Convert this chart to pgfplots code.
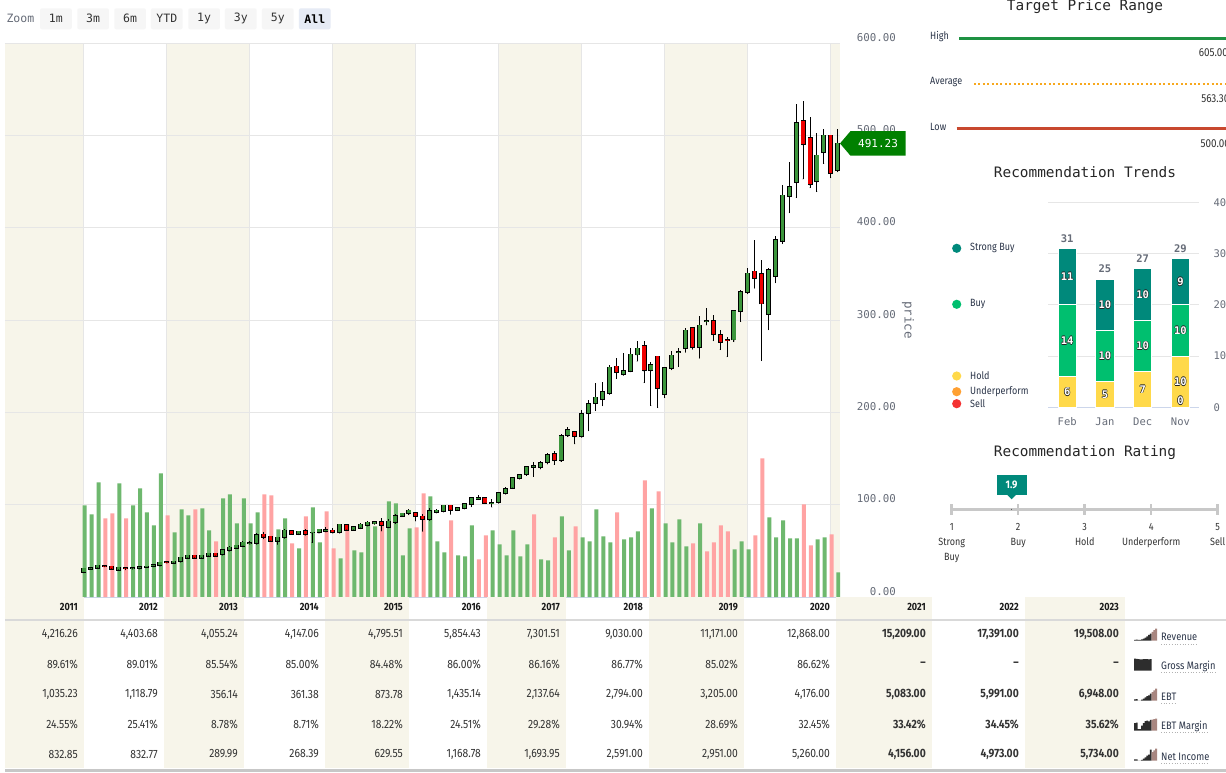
\documentclass[border=0pt]{standalone}
\usepackage{fontspec}
\usepackage{pgfplots}
\usepackage{pgfplotstable}
\pgfplotsset{compat=1.18}
\setmainfont{Fira Sans}
\setmonofont{DejaVu Sans Mono}
\newfontfamily\cond[FakeStretch=0.86]{Fira Sans}
\newcommand\fs[2]{\fontsize{#1}{#2}\selectfont}

\definecolor{beige}{RGB}{247,245,234}
\definecolor{gridc}{RGB}{230,230,230}
\definecolor{axisc}{RGB}{204,214,235}
\definecolor{labc}{RGB}{102,108,120}
\definecolor{upc}{RGB}{60,150,60}
\definecolor{dnc}{RGB}{240,0,0}
\definecolor{volup}{RGB}{110,184,110}
\definecolor{voldn}{RGB}{255,163,163}
\definecolor{tagc}{RGB}{0,128,0}
\definecolor{btn}{RGB}{246,246,246}
\definecolor{btnsel}{RGB}{230,235,245}
\definecolor{txt}{RGB}{51,51,51}
\definecolor{navy}{RGB}{42,52,72}
\definecolor{hig}{RGB}{30,146,66}
\definecolor{avg}{RGB}{247,168,30}
\definecolor{low}{RGB}{200,72,46}
\definecolor{sbuy}{RGB}{0,137,123}
\definecolor{buy}{RGB}{0,191,111}
\definecolor{hold}{RGB}{255,217,74}
\definecolor{under}{RGB}{255,160,50}
\definecolor{sell}{RGB}{244,50,50}
\definecolor{scalec}{RGB}{200,200,200}
\definecolor{mauve}{RGB}{168,134,128}
\definecolor{dark}{RGB}{45,45,45}
\definecolor{rowline}{RGB}{217,217,217}

% monthly candles: index, open, high, low, close, volume, volume colour (1 = up)
\pgfplotstableread{
i o h l c v u
0 27.0 31.5 26.5 31.0 91.7 1
1 30.6 32.8 29.9 31.7 82.7 1
2 31.7 35.0 31.4 34.2 114.7 1
3 33.8 34.2 33.0 33.5 78.7 0
4 33.2 33.5 30.3 30.6 83.7 0
5 29.5 33.0 29.0 32.1 113.7 1
6 31.2 32.1 29.5 31.0 78.7 0
7 31.0 32.5 30.6 31.2 91.7 1
8 31.4 33.9 30.3 32.4 108.7 1
9 32.4 33.5 32.0 33.2 84.7 1
10 33.5 35.3 33.2 34.6 71.7 1
11 34.2 38.0 33.9 37.5 123.7 1
12 37.6 38.2 37.0 37.4 81.7 0
13 37.1 39.2 36.8 38.6 64.7 1
14 38.6 43.2 38.3 42.9 87.7 1
15 42.5 45.4 42.2 45.0 81.7 1
16 45.0 45.8 42.0 42.5 87.7 0
17 42.5 45.6 42.2 45.0 88.7 1
18 44.7 48.0 44.3 47.2 66.7 1
19 47.2 47.6 44.3 44.7 55.7 0
20 46.1 52.0 45.7 51.2 98.7 1
21 50.8 55.0 49.5 53.7 102.7 1
22 53.3 56.8 52.6 55.9 73.7 1
23 55.5 61.0 54.4 59.1 98.7 1
24 58.6 61.0 57.0 58.9 73.7 1
25 58.4 69.0 57.0 67.4 84.7 1
26 67.7 69.9 63.0 65.2 102.7 0
27 65.6 66.3 60.5 60.9 101.7 0
28 60.9 65.2 56.9 64.5 67.7 1
29 64.5 73.9 63.8 72.1 78.7 1
30 71.7 72.4 67.8 68.5 53.7 0
31 68.5 71.7 67.4 71.0 48.7 1
32 71.7 73.2 66.7 68.1 80.7 0
33 69.7 70.3 59.0 69.9 89.7 1
34 69.9 73.9 69.5 73.2 54.7 1
35 71.7 75.3 70.3 72.8 85.7 0
36 72.1 74.6 69.5 69.9 48.7 0
37 69.9 79.3 69.5 78.6 38.7 1
38 78.2 79.0 72.4 72.8 72.7 0
39 72.8 76.4 72.1 75.7 46.7 1
40 74.9 80.3 74.2 78.6 44.7 1
41 77.8 82.5 77.1 80.7 73.7 1
42 79.6 82.0 78.9 81.4 70.7 1
43 81.4 86.1 71.4 77.8 72.7 0
44 75.7 84.3 74.9 81.8 95.7 1
45 81.1 89.7 79.3 87.9 93.7 1
46 87.9 91.2 87.6 90.5 41.7 1
47 90.8 95.5 89.0 93.7 68.7 1
48 91.5 92.6 82.3 87.8 69.7 0
49 87.2 90.1 71.0 84.3 103.7 0
50 84.0 96.2 82.9 93.3 100.7 1
51 91.9 95.5 91.5 93.7 55.7 1
52 93.0 99.8 92.3 99.1 44.7 1
53 99.1 99.8 89.4 94.4 76.7 0
54 94.4 97.3 93.7 96.6 41.7 1
55 96.2 101.6 95.5 100.9 40.7 1
56 100.5 108.8 97.7 107.4 71.7 1
57 106.3 111.0 105.9 107.7 37.7 0
58 107.4 108.5 101.6 102.0 61.7 0
59 101.8 106.3 97.3 102.3 66.7 1
60 102.7 114.1 101.6 112.8 52.7 1
61 112.1 119.1 111.7 117.1 41.7 1
62 118.2 130.3 117.8 129.4 66.7 1
63 128.6 133.7 127.9 132.6 40.7 1
64 133.0 142.3 131.5 141.3 52.7 1
65 141.0 146.7 130.5 141.6 82.7 0
66 140.5 147.4 138.7 145.6 37.7 1
67 145.9 155.7 144.1 153.9 36.7 1
68 155.3 157.8 143.4 148.1 59.7 0
69 148.1 176.6 146.7 174.4 80.7 1
70 175.1 184.1 173.7 181.3 46.7 1
71 179.1 179.5 165.8 174.1 70.7 0
72 174.1 202.9 173.0 198.6 59.7 1
73 198.9 213.4 180.1 208.7 55.7 1
74 209.7 231.4 201.8 216.2 87.7 1
75 214.1 232.5 207.2 222.0 60.7 1
76 220.6 250.9 219.5 248.7 54.7 1
77 249.8 258.5 236.5 243.3 84.7 0
78 241.2 264.6 240.1 244.8 57.7 1
79 244.8 269.3 244.0 262.8 59.7 1
80 262.5 276.9 255.2 269.3 65.7 1
81 271.5 277.3 232.1 245.5 116.7 0
82 245.5 254.2 207.2 251.3 88.7 1
83 260.6 261.5 205.1 226.0 105.7 0
84 219.5 249.5 215.9 247.7 73.7 1
85 247.7 266.1 246.2 261.7 54.7 1
86 265.3 269.3 249.5 265.7 77.7 1
87 269.3 291.0 265.0 288.8 50.7 1
88 291.0 292.1 268.2 270.4 53.7 0
89 270.4 304.3 258.5 294.2 73.7 1
90 298.9 313.0 294.6 299.3 45.7 0
91 298.6 305.4 277.6 284.5 54.7 0
92 283.4 288.8 267.9 276.2 71.7 0
93 278.7 281.2 260.3 278.4 65.7 0
94 278.7 310.1 276.5 309.4 47.7 1
95 309.4 332.1 298.2 330.0 55.7 1
96 330.0 356.3 328.5 350.5 47.7 1
97 352.7 386.3 334.3 345.1 61.7 0
98 349.5 365.0 256.0 317.7 138.7 0
99 306.1 356.0 289.5 353.8 79.7 1
100 347.3 391.0 340.4 386.3 59.7 1
101 385.9 446.2 382.7 435.0 76.7 1
102 433.9 471.1 416.2 443.7 58.7 1
103 449.1 533.9 432.5 513.0 58.7 1
104 515.2 537.2 452.7 490.3 92.7 0
105 496.8 519.9 443.3 446.9 51.7 0
106 450.2 502.5 439.0 478.3 57.7 1
107 481.6 506.9 469.3 500.0 59.7 1
108 500.0 500.0 454.2 458.8 62.7 0
109 462.1 506.9 460.6 491.23 24.7 1
}\ohlc

% white digits with a dark rim
\newcommand\olabel[1]{%
  \sbox0{#1}%
  \makebox[\wd0][l]{%
    \rlap{\raisebox{0.55pt}{\textcolor{black!85}{#1}}}%
    \rlap{\raisebox{-0.55pt}{\textcolor{black!85}{#1}}}%
    \rlap{\hspace*{0.55pt}\textcolor{black!85}{#1}}%
    \rlap{\hspace*{-0.55pt}\textcolor{black!85}{#1}}%
    \textcolor{white}{#1}}}

% one row of the financial table, right-aligned per column
\newcommand\trow[2]{%
  \foreach \v [count=\k from 0] in {#2}{%
    \pgfmathsetmacro\xr{{78,158,238,319,403,481,560,643,738,830,926,1019,1119}[\k]}%
    \node[anchor=east, inner sep=0pt, text=txt, font=\cond\fs{12}{13}\ifnum\k>9 \bfseries\fi] at (\xr,#1) {\v};}}

% invisible point markers for plots that only carry error bars
\pgfplotsset{bars only/.style={only marks, mark=*, mark size=0.1pt, mark options={draw=none, fill=none}}}

\begin{document}
\begin{tikzpicture}
\begin{scope}[x=1pt,y=1pt]
\fill[white] (0,0) rectangle (1226,772);
% ---- range selector ----
\node[anchor=west, inner sep=0pt, text=labc, font=\ttfamily\fs{11.5}{13}] at (6.3,753.2) {Zoom};
\foreach \cx/\t in {55.9/1m,93.1/3m,130.1/6m,166.8/YTD,204.1/1y,240.8/3y,277.8/5y}
  \node[fill=btn, rounded corners=2pt, minimum width=31.7pt, minimum height=21pt, inner sep=0pt, text=txt, font=\ttfamily\fs{11.5}{13}] at (\cx,753.2) {\t};
\node[fill=btnsel, rounded corners=2pt, minimum width=31.7pt, minimum height=21pt, inner sep=0pt, text=black, font=\ttfamily\bfseries\fs{11.5}{13}] at (314.8,753.2) {All};
\end{scope}

% ---- price axis: year bands, grid, labels ----
\begin{axis}[at={(5pt,175pt)}, anchor=south west, scale only axis,
  width=835pt, height=554pt,
  xmin=-11.41, xmax=109.34, ymin=0, ymax=600, enlargelimits=false,
  axis x line*=bottom, axis y line*=right,
  x axis line style={draw=axisc, line width=1pt},
  y axis line style={draw=none},
  major tick length=0pt, xtick=\empty,
  ytick={0,100,...,600},
  /pgf/number format/assume math mode=true,
  yticklabel={\pgfmathprintnumber[fixed,fixed zerofill,precision=2]{\tick}},
  yticklabel style={anchor=base east, inner sep=0pt, xshift=56pt, yshift=2pt,
    text=labc, font=\ttfamily\fs{10.8}{12}}]
\fill[beige] (axis cs:-11.41,0) rectangle (axis cs:0,600);
\fill[beige] (axis cs:12,0) rectangle (axis cs:24,600);
\fill[beige] (axis cs:36,0) rectangle (axis cs:48,600);
\fill[beige] (axis cs:60,0) rectangle (axis cs:72,600);
\fill[beige] (axis cs:84,0) rectangle (axis cs:96,600);
\fill[beige] (axis cs:108,0) rectangle (axis cs:109.34,600);
\pgfplotsinvokeforeach{0,12,24,36,48,60,72,84,96,108}{
  \draw[gridc, line width=1pt] (axis cs:#1,0) -- (axis cs:#1,600);}
\pgfplotsinvokeforeach{100,200,300,400,500,600}{
  \draw[gridc, line width=1pt] (axis cs:-11.41,#1) -- (axis cs:109.34,#1);}
\end{axis}
\node[rotate=-90, text=labc, font=\ttfamily\fs{12.5}{14}] at (908pt,452pt) {price};

% ---- volume ----
\begin{axis}[at={(5pt,175pt)}, anchor=south west, scale only axis,
  width=835pt, height=554pt, hide axis,
  xmin=-11.41, xmax=109.34, ymin=0, ymax=554, enlargelimits=false]
\addplot[ybar, bar width=4pt, bar shift=0.8pt, draw=none, fill=volup,
  restrict expr to domain={\thisrow{u}}{0.5:1.5}] table[x=i, y=v]{\ohlc};
\addplot[ybar, bar width=4pt, bar shift=0.8pt, draw=none, fill=voldn,
  restrict expr to domain={\thisrow{u}}{-0.5:0.5}] table[x=i, y=v]{\ohlc};
\end{axis}

% ---- candles ----
\begin{axis}[at={(5pt,175pt)}, anchor=south west, scale only axis,
  width=835pt, height=554pt, hide axis, clip=false,
  xmin=-11.41, xmax=109.34, ymin=0, ymax=600, enlargelimits=false]
% wicks
\addplot[bars only, error bars/.cd, y dir=plus, y explicit,
  error mark=none, error bar style={line width=1pt, black}]
  table[x=i, y=l, y error plus expr={\thisrow{h}-\thisrow{l}}]{\ohlc};
% body outline
\addplot[bars only, error bars/.cd, y dir=plus, y explicit,
  error mark=none, error bar style={line width=5pt, black}]
  table[x=i, y expr={min(\thisrow{o},\thisrow{c})-0.9},
        y error plus expr={abs(\thisrow{c}-\thisrow{o})+1.8}]{\ohlc};
% rising bodies
\addplot[bars only, restrict expr to domain={\thisrow{c}-\thisrow{o}}{0:1000},
  error bars/.cd, y dir=plus, y explicit,
  error mark=none, error bar style={line width=3.2pt, upc}]
  table[x=i, y=o, y error plus expr={\thisrow{c}-\thisrow{o}}]{\ohlc};
% falling bodies
\addplot[bars only, restrict expr to domain={\thisrow{c}-\thisrow{o}}{-1000:-0.001},
  error bars/.cd, y dir=plus, y explicit,
  error mark=none, error bar style={line width=3.2pt, dnc}]
  table[x=i, y=c, y error plus expr={\thisrow{o}-\thisrow{c}}]{\ohlc};
% last close tag
\fill[tagc] (axis cs:109.34,491.23) -- ++(10.5pt,12.3pt) -- ++(55pt,0pt) -- ++(0pt,-24.6pt) -- ++(-55pt,0pt) -- cycle;
\node[text=white, font=\ttfamily\fs{11}{12}] at ([xshift=38pt]axis cs:109.34,491.23) {491.23};
\end{axis}

% ---- financial table ----
\begin{scope}[x=1pt,y=1pt]
\foreach \a/\b in {5/84,164/244,325/409,487/566,649/744,836/932,1025/1125}
  \fill[beige] (\a,4) rectangle (\b,175);
\draw[rowline, line width=1.2pt] (5,152) -- (1226,152);
\fill[black!22] (5,0) rectangle (1226,3.5);
\foreach \v [count=\k from 0] in {2011,2012,2013,2014,2015,2016,2017,2018,2019,2020,2021,2022,2023}{%
  \pgfmathsetmacro\xr{{78,158,238,319,403,481,560,643,738,830,926,1019,1119}[\k]}%
  \node[anchor=east, inner sep=0pt, text=black!90, font=\cond\bfseries\fs{10.5}{12}] at (\xr,165) {\v};}
\trow{138}{{4,216.26},{4,403.68},{4,055.24},{4,147.06},{4,795.51},{5,854.43},{7,301.51},{9,030.00},{11,171.00},{12,868.00},{15,209.00},{17,391.00},{19,508.00}}
\trow{108}{89.61\%,89.01\%,85.54\%,85.00\%,84.48\%,86.00\%,86.16\%,86.77\%,85.02\%,86.62\%,\textendash,\textendash,\textendash}
\trow{78}{{1,035.23},{1,118.79},356.14,361.38,873.78,{1,435.14},{2,137.64},{2,794.00},{3,205.00},{4,176.00},{5,083.00},{5,991.00},{6,948.00}}
\trow{48}{24.55\%,25.41\%,8.78\%,8.71\%,18.22\%,24.51\%,29.28\%,30.94\%,28.69\%,32.45\%,33.42\%,34.45\%,35.62\%}
\trow{18}{832.85,832.77,289.99,268.39,629.55,{1,168.78},{1,693.95},{2,591.00},{2,951.00},{5,260.00},{4,156.00},{4,973.00},{5,734.00}}
\foreach \yy/\t in {134.7/Revenue,105.3/Gross Margin,75.3/EBT,45.3/EBT Margin,15.3/Net Income}{
  \node[anchor=west, inner sep=0pt, text=navy, font=\cond\fs{10.8}{12}] (lb) at (1161,\yy) {\t};
  \draw[gray!60, dotted, line width=0.7pt] ([yshift=-3pt]lb.base west) -- ([yshift=-3pt]lb.base east);}
\end{scope}

% sparkline icons (history dark, estimates mauve)
\begin{axis}[at={(1134pt,131.3pt)}, anchor=south west, scale only axis, width=23pt, height=12pt,
  hide axis, xmin=-0.5, xmax=12.5, ymin=3000, ymax=19508, enlargelimits=false]
\addplot[ybar, bar width=1.77pt, fill=dark, draw=none] coordinates {(0,4216.26)(1,4403.68)(2,4055.24)(3,4147.06)(4,4795.51)(5,5854.43)(6,7301.51)(7,9030)(8,11171)(9,12868)};
\addplot[ybar, bar width=1.77pt, fill=mauve, draw=none] coordinates {(10,15209)(11,17391)(12,19508)};
\end{axis}
\begin{axis}[at={(1134pt,101.3pt)}, anchor=south west, scale only axis, width=23pt, height=12pt,
  hide axis, xmin=-0.5, xmax=12.5, ymin=0, ymax=89.61, enlargelimits=false]
\addplot[ybar, bar width=1.77pt, fill=dark, draw=none] coordinates {(0,89.61)(1,89.01)(2,85.54)(3,85.00)(4,84.48)(5,86.00)(6,86.16)(7,86.77)(8,85.02)(9,86.62)};
\end{axis}
\begin{axis}[at={(1134pt,71.3pt)}, anchor=south west, scale only axis, width=23pt, height=12pt,
  hide axis, xmin=-0.5, xmax=12.5, ymin=300, ymax=6948, enlargelimits=false]
\addplot[ybar, bar width=1.77pt, fill=dark, draw=none] coordinates {(0,1035.23)(1,1118.79)(2,356.14)(3,361.38)(4,873.78)(5,1435.14)(6,2137.64)(7,2794)(8,3205)(9,4176)};
\addplot[ybar, bar width=1.77pt, fill=mauve, draw=none] coordinates {(10,5083)(11,5991)(12,6948)};
\end{axis}
\begin{axis}[at={(1134pt,41.3pt)}, anchor=south west, scale only axis, width=23pt, height=12pt,
  hide axis, xmin=-0.5, xmax=12.5, ymin=5, ymax=35.62, enlargelimits=false]
\addplot[ybar, bar width=1.77pt, fill=dark, draw=none] coordinates {(0,24.55)(1,25.41)(2,8.78)(3,8.71)(4,18.22)(5,24.51)(6,29.28)(7,30.94)(8,28.69)(9,32.45)};
\addplot[ybar, bar width=1.77pt, fill=mauve, draw=none] coordinates {(10,33.42)(11,34.45)(12,35.62)};
\end{axis}
\begin{axis}[at={(1134pt,11.3pt)}, anchor=south west, scale only axis, width=23pt, height=12pt,
  hide axis, xmin=-0.5, xmax=12.5, ymin=200, ymax=5734, enlargelimits=false]
\addplot[ybar, bar width=1.77pt, fill=dark, draw=none] coordinates {(0,832.85)(1,832.77)(2,289.99)(3,268.39)(4,629.55)(5,1168.78)(6,1693.95)(7,2591)(8,2951)(9,5260)};
\addplot[ybar, bar width=1.77pt, fill=mauve, draw=none] coordinates {(10,4156)(11,4973)(12,5734)};
\end{axis}

% ---- target price range and trend legend ----
\begin{scope}[x=1pt,y=1pt]
\node[text=black!85, font=\ttfamily\fs{14.4}{16}] at (1085,765) {Target Price Range};
\node[anchor=west, inner sep=0pt, text=navy, font=\cond\fs{10.5}{12}] at (930,735) {High};
\draw[hig, line width=2.5pt] (959,733.3) -- (1226,733.3);
\node[anchor=east, inner sep=0pt, text=txt, font=\cond\fs{11.5}{12}] at (1228,719) {605.00};
\node[anchor=west, inner sep=0pt, text=navy, font=\cond\fs{10.5}{12}] at (930,690) {Average};
\draw[avg, line width=2pt, dash pattern=on 2pt off 2.4pt] (974,688.3) -- (1226,688.3);
\node[anchor=east, inner sep=0pt, text=txt, font=\cond\fs{11.5}{12}] at (1229.5,673.3) {563.30};
\node[anchor=west, inner sep=0pt, text=navy, font=\cond\fs{10.5}{12}] at (930,645.3) {Low};
\draw[low, line width=2.5pt] (956.7,643.7) -- (1226,643.7);
\node[anchor=east, inner sep=0pt, text=txt, font=\cond\fs{11.5}{12}] at (1230,628.3) {500.00};
\node[text=black!85, font=\ttfamily\fs{14.4}{16}] at (1085,599.7) {Recommendation Trends};
\foreach \yy/\c/\t in {523.7/sbuy/Strong Buy,467.7/buy/Buy,396/hold/Hold,380.3/under/Underperform,368.3/sell/Sell}{
  \fill[\c] (956.7,\yy) circle (4.6pt);
  \node[anchor=west, inner sep=0pt, text=navy, font=\cond\fs{10.5}{12}] at (970,\yy) {\t};}
\node[text=black!85, font=\ttfamily\fs{14.4}{16}] at (1085,319.7) {Recommendation Rating};
\end{scope}

% ---- recommendation trends ----
\begin{axis}[at={(1048.3pt,364.7pt)}, anchor=south west, scale only axis,
  width=151pt, height=205pt, xmin=-0.5, xmax=3.5, ymin=0, ymax=40, enlargelimits=false,
  ybar stacked, bar width=18.3pt,
  axis x line*=bottom, axis y line*=right,
  x axis line style={draw=axisc, line width=1pt}, y axis line style={draw=none},
  major tick length=0pt,
  xtick={0,1,2,3}, xticklabels={Feb,Jan,Dec,Nov},
  ytick={0,10,20,30,40}, ymajorgrids, grid style={draw=gridc, line width=1pt},
  /pgf/number format/assume math mode=true,
  xticklabel style={anchor=center, yshift=-14.4pt, inner sep=0pt, text=labc, font=\ttfamily\fs{10.5}{12}},
  yticklabel style={anchor=west, inner sep=0pt, xshift=14pt, text=labc, font=\ttfamily\fs{10.5}{12}}]
\addplot[fill=hold, draw=white, line width=1pt] coordinates {(0,6) (1,5) (2,7) (3,10)};
\addplot[fill=buy, draw=white, line width=1pt] coordinates {(0,14) (1,10) (2,10) (3,10)};
\addplot[fill=sbuy, draw=white, line width=1pt] coordinates {(0,11) (1,10) (2,10) (3,9)};
\end{axis}
\begin{axis}[at={(1048.3pt,364.7pt)}, anchor=south west, scale only axis,
  width=151pt, height=205pt, xmin=-0.5, xmax=3.5, ymin=0, ymax=40, enlargelimits=false,
  hide axis, clip=false]
% counts inside each segment
\addplot[only marks, mark=none, point meta=explicit symbolic,
  nodes near coords={\olabel{\pgfplotspointmeta}},
  nodes near coords style={anchor=center, inner sep=0pt, font=\ttfamily\bfseries\fs{10.5}{12}}]
  coordinates {(0,3)[6] (0,13)[14] (0,25.5)[11]
               (1,2.5)[5] (1,10)[10] (1,20)[10]
               (2,3.5)[7] (2,12)[10] (2,22)[10]
               (3,1.3)[0] (3,5)[10] (3,15)[10] (3,24.5)[9]};
% totals above each bar
\addplot[only marks, mark=none, point meta=explicit symbolic, nodes near coords,
  nodes near coords style={anchor=center, yshift=10pt, inner sep=0pt, text=labc, font=\ttfamily\bfseries\fs{10.5}{12}}]
  coordinates {(0,31)[31] (1,25)[25] (2,27)[27] (3,29)[29]};
\end{axis}

% ---- recommendation rating ----
\begin{axis}[at={(951.7pt,262.7pt)}, anchor=west, scale only axis,
  width=266pt, height=20pt, xmin=1, xmax=5, ymin=-1, ymax=1, enlargelimits=false,
  axis x line=middle, axis y line=none,
  axis line style={draw=scalec, line width=2.5pt, -},
  xtick={1,2,3,4,5},
  xticklabels={{1\\Strong\\Buy},{2\\Buy},{3\\Hold},{4\\Underperform},{5\\Sell}},
  xticklabel style={align=center, anchor=north, inner sep=0pt, yshift=-9pt, text=txt, font=\cond\fs{10.5}{15}},
  major tick length=10.7pt, tick align=center,
  xtick style={draw=scalec, line width=2.5pt}, clip=false]
\addplot[bars only] coordinates {(1.9,0)};
\node[fill=sbuy, text=white, minimum width=30pt, minimum height=20pt, inner sep=0pt,
  anchor=south, font=\cond\bfseries\fs{11}{12}] (rb) at ([yshift=14.3pt]axis cs:1.9,0) {1.9};
\fill[sbuy] ([xshift=-4.5pt,yshift=0.3pt]rb.south) -- ([xshift=4.5pt,yshift=0.3pt]rb.south) -- ([yshift=-4.3pt]rb.south) -- cycle;
\end{axis}

\pgfresetboundingbox
\path[use as bounding box] (0pt,0pt) rectangle (1226pt,772pt);
\end{tikzpicture}
\end{document}
